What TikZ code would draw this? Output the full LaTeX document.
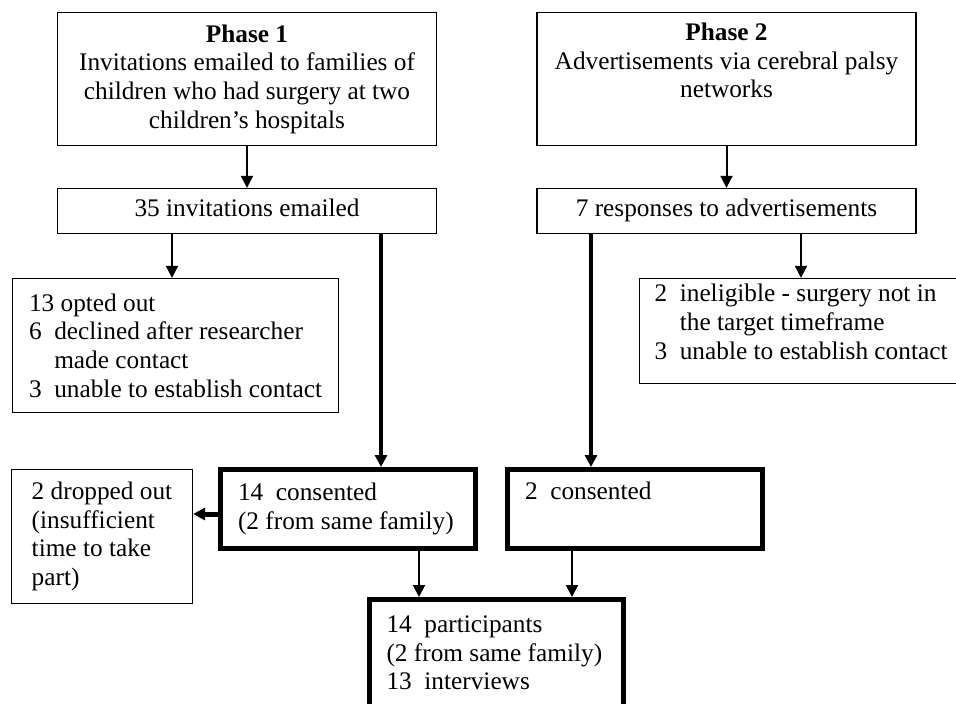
\documentclass[tikz,border=0pt]{standalone}
\usepackage{fontspec}
\setmainfont{Liberation Serif}
\usetikzlibrary{arrows.meta}

\begin{document}
\begin{tikzpicture}[x=1pt,y=-1pt,>={Triangle[length=12pt,width=12pt]},
  font=\fontsize{25.3}{28.7}\selectfont,
  box/.style={draw,line width=1.3pt,inner sep=0pt},
  thickbox/.style={draw,line width=5pt,inner xsep=17.5pt,inner ysep=0pt,align=flush left},
  arr/.style={->,line width=2pt},
  thickarr/.style={->,line width=4pt}]
  \useasboundingbox (0,0) rectangle (956,704);
  % phases
  \node[box,minimum width=379,minimum height=133,align=center] (phase1) at (247,79) {\textbf{Phase 1}\\Invitations emailed to families of\\children who had surgery at two\\children’s hospitals};
  \node[box,minimum width=379,minimum height=133,align=center] (phase2) at (726.5,79) {\textbf{Phase 2}\\Advertisements via cerebral palsy\\networks\\\strut};
  \node[box,minimum width=379,minimum height=45] (inv) at (247,211) {\strut 35 invitations emailed};
  \node[box,minimum width=379,minimum height=45] (resp) at (726.5,211) {\strut 7 responses to advertisements};
  % exclusions
  \node[box,minimum width=326,minimum height=134,align=left] (optout) at (175.5,345.5) {13 opted out\\6~~declined after researcher\\\hspace*{1em}made contact\\3~~unable to establish contact};
  \node[box,minimum width=323,minimum height=105,align=left] (inelig) at (801,331) {2~~ineligible - surgery not in\\\hspace*{1em}the target timeframe\\3~~unable to establish contact\\[-10pt]\mbox{}};
  % consent
  \node[thickbox,minimum height=79,text width=220] (cons1) at (348,509) {14~~consented\\(2 from same family)};
  \node[thickbox,minimum height=79,text width=220] (cons2) at (635,509) {2~~consented\\\strut};
  \node[box,minimum width=181,minimum height=134,align=left] (drop) at (102,536.5) {2 dropped out\\(insufficient\\time to take\\part)};
  \node[thickbox,minimum height=107,text width=220,inner xsep=17pt] (part) at (496.5,653) {14~~participants\\(2 from same family)\\13~~interviews};
  \coordinate (lead1) at ([xshift=134]inv.south);
  \coordinate (lead2) at ([xshift=-135.5]resp.south);
  \coordinate (out1) at ([xshift=-3.5]optout.north);
  \coordinate (drop1) at ([yshift=-5]cons1.west);
  \coordinate (join1) at ([xshift=71]cons1.south);
  \coordinate (join2) at ([xshift=-63]cons2.south);
  \draw[arr] (phase1) -- (inv);
  \draw[arr] (phase2) -- (resp);
  \draw[arr] (out1 |- inv.south) -- (out1);
  \draw[arr] (inelig.north |- resp.south) -- (inelig);
  \draw[thickarr] (lead1) -- (lead1 |- cons1.north);
  \draw[thickarr] (lead2) -- (lead2 |- cons2.north);
  \draw[thickarr,line width=5pt] (drop1) -- (drop1 -| drop.east);
  \draw[arr] (join1) -- (join1 |- part.north);
  \draw[arr] (join2) -- (join2 |- part.north);
\end{tikzpicture}
\end{document}
